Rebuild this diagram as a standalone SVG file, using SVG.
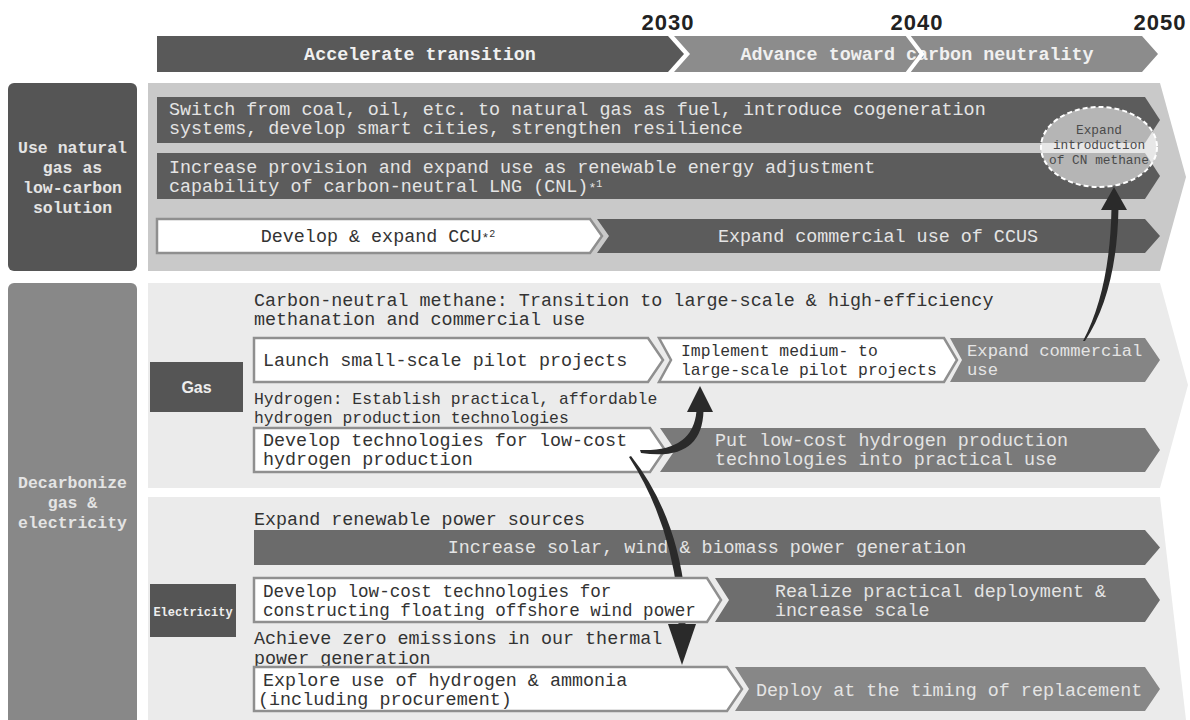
<svg xmlns="http://www.w3.org/2000/svg" width="1190" height="720" viewBox="0 0 1190 720">
<style>
.m{font-family:"Liberation Mono","DejaVu Sans Mono",monospace;font-size:18.4px}
.dk{fill:#333}
.lt{fill:#e4e4e4}
.b{font-weight:bold}
.box{fill:#fff;stroke:#8f8f8f;stroke-width:2.5}
.yr{font-family:"Liberation Sans",Arial,sans-serif;font-weight:bold;font-size:22px;letter-spacing:1px;fill:#222;text-anchor:middle}
.arr{fill:#2a2a2a}
</style>
<rect width="1190" height="720" fill="#fff"/>

<g id="timeline">
<polygon points="157,36 668,36 684,54 668,72 157,72" fill="#595959"/>
<polygon points="674,36 1142,36 1158,54 1142,72 674,72 690,54" fill="#8c8c8c"/>
<text class="m b" x="420" y="60" text-anchor="middle" fill="#f0f0f0">Accelerate transition</text>
<text class="m b" x="917" y="60" text-anchor="middle" fill="#f0f0f0">Advance toward carbon neutrality</text>
<polyline points="906,33 922,54 906,75" fill="none" stroke="#fff" stroke-width="4"/>
<text class="yr" x="668" y="30">2030</text>
<text class="yr" x="917" y="30">2040</text>
<text class="yr" x="1160" y="30">2050</text>
</g>

<g id="cat-natural-gas">
<rect x="8" y="83" width="129" height="188" rx="6" fill="#555"/>
<text class="m b lt" text-anchor="middle" style="font-size:16.5px"><tspan x="72.5" y="153">Use natural</tspan><tspan x="72.5" y="173">gas as</tspan><tspan x="72.5" y="193">low-carbon</tspan><tspan x="72.5" y="213">solution</tspan></text>
</g>
<g id="cat-decarbonize">
<rect x="8" y="283" width="129" height="450" rx="6" fill="#888"/>
<text class="m b lt" text-anchor="middle" style="font-size:16.5px"><tspan x="72.5" y="488">Decarbonize</tspan><tspan x="72.5" y="508">gas &amp;</tspan><tspan x="72.5" y="528">electricity</tspan></text>
</g>

<g id="section-natural-gas">
<polygon points="148,83 1160,83 1186,177 1160,271 148,271" fill="#c9c9c9"/>
</g>
<g id="section-gas">
<polygon points="148,283 1160,283 1188,385 1160,488 148,488" fill="#ebebeb"/>
</g>
<g id="section-electricity">
<polygon points="148,497 1160,497 1186,720 148,720" fill="#ebebeb"/>
</g>

<g id="row-switch">
<polygon points="157,97 1145,97 1160,120 1145,143 157,143" fill="#5c5c5c"/>
<text class="m lt"><tspan x="169" y="115">Switch from coal, oil, etc. to natural gas as fuel, introduce cogeneration</tspan><tspan x="169" y="134">systems, develop smart cities, strengthen resilience</tspan></text>
</g>
<g id="row-cnl">
<polygon points="157,153 1145,153 1160,176 1145,199 157,199" fill="#5c5c5c"/>
<text class="m lt"><tspan x="169" y="173">Increase provision and expand use as renewable energy adjustment</tspan><tspan x="169" y="192">capability of carbon-neutral LNG (CNL)<tspan style="font-size:13px">*</tspan><tspan style="font-size:10px" dy="-5">1</tspan></tspan></text>
</g>
<g id="ccu">
<polygon class="box" points="157,219 590,219 602,236 590,253 157,253"/>
<text class="m dk" x="378" y="242" text-anchor="middle">Develop &amp; expand CCU<tspan style="font-size:13px">*</tspan><tspan style="font-size:10px" dy="-5">2</tspan></text>
</g>
<g id="ccus">
<polygon points="597,219 1145,219 1160,236 1145,253 597,253 609,236" fill="#5c5c5c"/>
<text class="m lt" x="878" y="242" text-anchor="middle">Expand commercial use of CCUS</text>
</g>

<g id="cn-methane-heading">
<text class="m dk"><tspan x="254" y="306">Carbon-neutral methane: Transition to large-scale &amp; high-efficiency</tspan><tspan x="254" y="325">methanation and commercial use</tspan></text>
</g>
<g id="gas-label">
<rect x="150" y="362" width="93" height="50" fill="#555"/>
<text x="196.5" y="393" text-anchor="middle" font-family="Liberation Sans, Arial, sans-serif" font-weight="bold" font-size="16" fill="#eee">Gas</text>
</g>
<g id="pilot-small">
<polygon class="box" points="254,338 648,338 663,360 648,382 254,382"/>
<text class="m dk" x="263" y="366">Launch small-scale pilot projects</text>
</g>
<g id="pilot-large">
<polygon class="box" points="659,338 944,338 957,360 944,382 659,382 671,360"/>
<text class="m dk" style="font-size:16.4px"><tspan x="681" y="356">Implement medium- to</tspan><tspan x="681" y="375">large-scale pilot projects</tspan></text>
</g>
<g id="expand-commercial">
<polygon points="950,338 1145,338 1160,360 1145,382 950,382 962,360" fill="#858585"/>
<text class="m lt" style="font-size:17.2px"><tspan x="967" y="356">Expand commercial</tspan><tspan x="967" y="375">use</tspan></text>
</g>
<g id="hydrogen-heading">
<text class="m dk" style="font-size:16.4px"><tspan x="254" y="404">Hydrogen: Establish practical, affordable</tspan><tspan x="254" y="423">hydrogen production technologies</tspan></text>
</g>
<g id="h2-develop">
<polygon class="box" points="254,428 650,428 665,450 650,472 254,472"/>
<text class="m dk"><tspan x="263" y="446">Develop technologies for low-cost</tspan><tspan x="263" y="465">hydrogen production</tspan></text>
</g>
<g id="h2-practical">
<polygon points="660,428 1145,428 1160,450 1145,472 660,472 675,450" fill="#7a7a7a"/>
<text class="m lt"><tspan x="715" y="446">Put low-cost hydrogen production</tspan><tspan x="715" y="465">technologies into practical use</tspan></text>
</g>

<g id="renewable-heading">
<text class="m dk" x="254" y="525">Expand renewable power sources</text>
</g>
<g id="renewable-increase">
<polygon points="254,530 1145,530 1160,547.5 1145,565 254,565" fill="#6b6b6b"/>
<text class="m lt" x="707" y="553" text-anchor="middle">Increase solar, wind &amp; biomass power generation</text>
</g>
<g id="electricity-label">
<rect x="150" y="584" width="86" height="53" fill="#555"/>
<text x="193" y="616" text-anchor="middle" font-family="Liberation Mono, monospace" font-weight="bold" font-size="12" fill="#eee">Electricity</text>
</g>
<g id="cn-methane-ellipse">
<ellipse cx="1099" cy="147" rx="58" ry="40" fill="#fff" fill-opacity="0.55" stroke="#fff" stroke-width="2" stroke-dasharray="5 3"/>
<text font-family="Liberation Mono, monospace" font-size="12.8" fill="#4a4a4a" text-anchor="middle"><tspan x="1099" y="134">Expand</tspan><tspan x="1099" y="149">introduction</tspan><tspan x="1099" y="164">of CN methane</tspan></text>
</g>

<g id="connectors">
<path class="arr" d="M1083,341 Q1110,290 1111.5,208 L1118.5,208 Q1117,292 1085,341 Z"/>
<polygon class="arr" points="1114,187 1127,210 1101,210"/>
<path class="arr" d="M640,450 Q693,452 696.5,411 L703.5,411 Q702,462 641,453 Z"/>
<polygon class="arr" points="700,386 713,412 687,412"/>
<path class="arr" d="M629,457 Q668,517 677.5,595 L678.5,626 L685.5,626 L685,595 Q676,513 631,456 Z"/>
<polygon class="arr" points="682,665 696,624 668,624"/>
</g>

<g id="wind-develop">
<polygon class="box" points="254,578 707,578 721,600 707,622 254,622"/>
<text class="m dk" style="font-size:17.6px"><tspan x="263" y="597">Develop low-cost technologies for</tspan><tspan x="263" y="616">constructing floating offshore wind power</tspan></text>
</g>
<g id="wind-deploy">
<polygon points="715,578 1145,578 1160,600 1145,622 715,622 729,600" fill="#6e6e6e"/>
<text class="m lt"><tspan x="775" y="597">Realize practical deployment &amp;</tspan><tspan x="775" y="616">increase scale</tspan></text>
</g>
<g id="thermal-heading">
<text class="m dk"><tspan x="254" y="644">Achieve zero emissions in our thermal</tspan><tspan x="254" y="664">power generation</tspan></text>
</g>
<g id="thermal-explore">
<polygon class="box" points="254,667 727,667 742,689 727,711 254,711"/>
<text class="m dk"><tspan x="263" y="686">Explore use of hydrogen &amp; ammonia</tspan><tspan x="258" y="705">(including procurement)</tspan></text>
</g>
<g id="thermal-deploy">
<polygon points="735,667 1145,667 1160,689 1145,711 735,711 749,689" fill="#878787"/>
<text class="m lt" x="756" y="696">Deploy at the timing of replacement</text>
</g>
</svg>
